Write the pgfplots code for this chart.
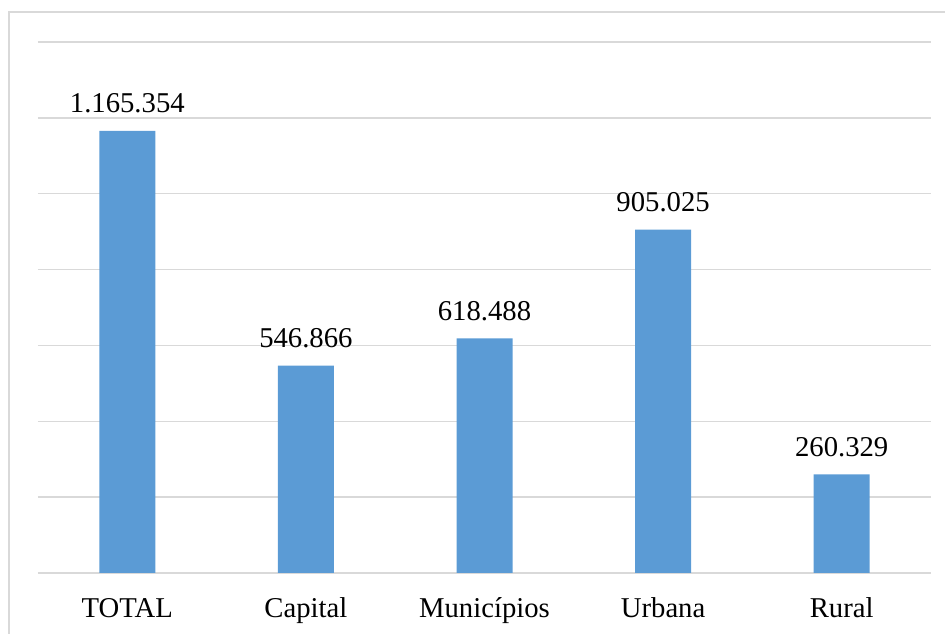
\documentclass[border=0pt]{standalone}
\usepackage{pgfplots}
\pgfplotsset{compat=1.18}
\usepackage{fontspec}
\setmainfont{Liberation Serif}
\definecolor{barblue}{RGB}{91,155,213}
\definecolor{gridgray}{RGB}{217,217,217}
\begin{document}
\begin{tikzpicture}[x=1pt,y=1pt]
\useasboundingbox (0,0) rectangle (945,634);
\draw[gridgray, line width=1.2pt] (9,-5) -- (9,622) -- (950,622);
\begin{axis}[
  at={(38pt,61pt)}, anchor=south west,
  scale only axis, width=893pt, height=531pt,
  xmin=-0.5, xmax=4.5, ymin=0, ymax=1400000,
  scaled y ticks=false,
  ytick={0,200000,400000,600000,800000,1000000,1200000,1400000},
  yticklabels={}, ymajorgrids,
  major grid style={gridgray, line width=1.5pt},
  axis line style={draw=none},
  ytick style={draw=none},
  xtick={0,1,2,3,4},
  xticklabels={TOTAL,Capital,Municípios,Urbana,Rural},
  xtick style={draw=none},
  major tick length=0pt,
  xticklabel style={anchor=base, yshift=-45pt, font=\fontsize{28.7}{34}\selectfont, inner sep=0pt},
  clip=false,
  ybar, bar width=56pt,
  point meta=explicit symbolic,
  nodes near coords,
  every node near coord/.append style={anchor=base, yshift=18pt, inner sep=0pt, font=\fontsize{28.7}{34}\selectfont, text=black},
]
\addplot[draw=none, fill=barblue] coordinates {
 (0,1165354) [1.165.354]
 (1,546866) [546.866]
 (2,618488) [618.488]
 (3,905025) [905.025]
 (4,260329) [260.329]
};
\end{axis}
\end{tikzpicture}
\end{document}
